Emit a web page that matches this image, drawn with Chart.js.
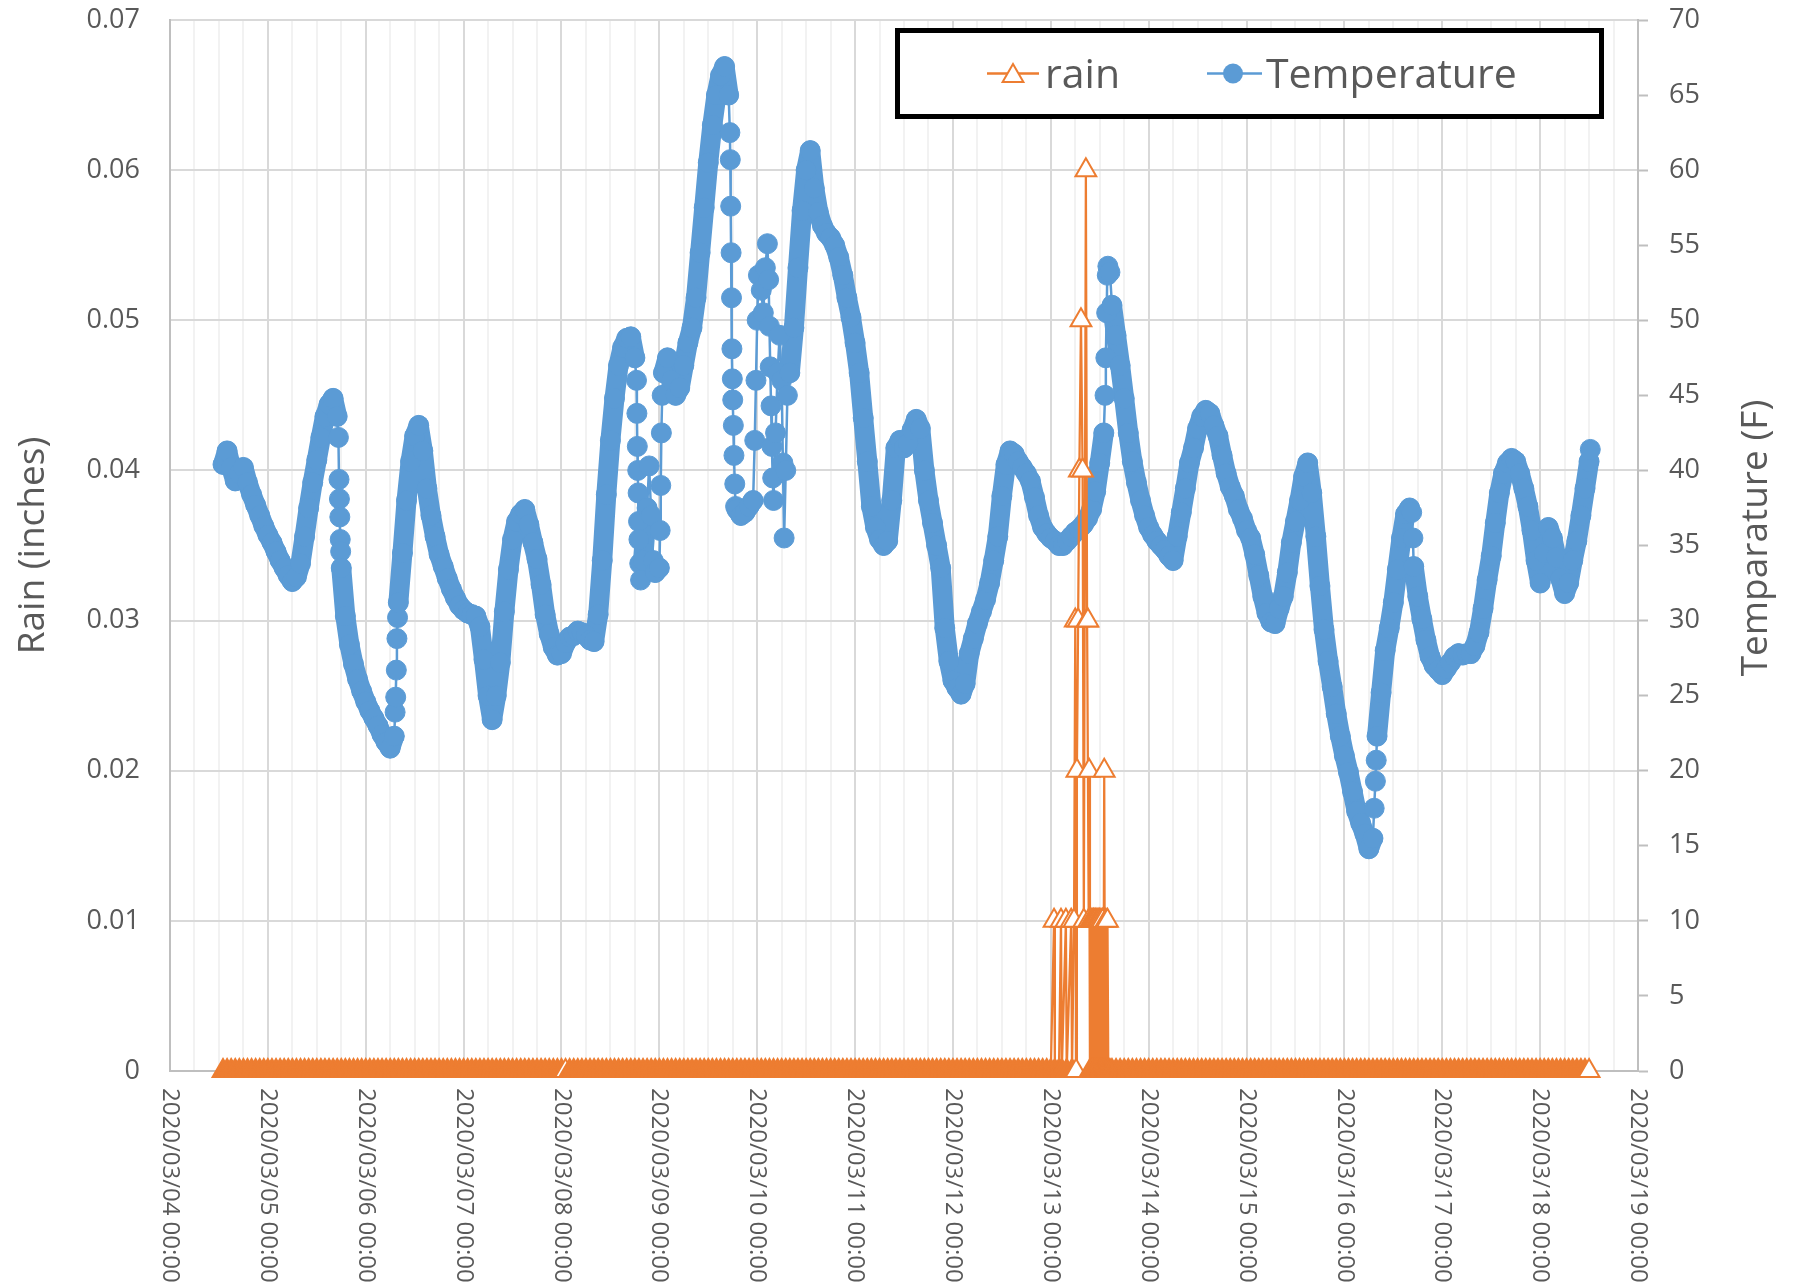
<!DOCTYPE html>
<html>
<head>
<meta charset="utf-8">
<script src="https://cdn.jsdelivr.net/npm/chart.js@4.4.1/dist/chart.umd.min.js"></script>
<style>
html,body{margin:0;padding:0;background:#ffffff;}
canvas{display:block;}
</style>
</head>
<body>
<canvas id="c" width="1797" height="1286" style="width:1797px;height:1286px"></canvas>
<script>
// ---- tick labels ----
const dateTickLabels = [
  '2020/03/04 00:00','2020/03/05 00:00','2020/03/06 00:00','2020/03/07 00:00',
  '2020/03/08 00:00','2020/03/09 00:00','2020/03/10 00:00','2020/03/11 00:00',
  '2020/03/12 00:00','2020/03/13 00:00','2020/03/14 00:00','2020/03/15 00:00',
  '2020/03/16 00:00','2020/03/17 00:00','2020/03/18 00:00','2020/03/19 00:00'
];
const rainTickLabels = ['0','0.01','0.02','0.03','0.04','0.05','0.06','0.07'];
const tempTickLabels = ['0','5','10','15','20','25','30','35','40','45','50','55','60','65','70'];

// ---- Temperature (F), one value per hour of each day (hour 0..23) ----
const temp0304 = [null,null,null,null,null,null,null,null,null,null,null,null,null,40.4,41.3,40.2,39.3,39.8,40.2,39.2,38.4,37.7,37.0,36.3];
const temp0305 = [35.7,35.2,34.6,34.0,33.5,33.0,32.6,32.9,33.8,35.6,37.5,39.2,40.7,42.2,43.6,44.4,44.8,43.6,33.5,30.3,28.4,27.1,26.1,25.3];
const temp0306 = [24.6,24.0,23.5,23.0,22.4,21.9,21.5,22.3,31.2,34.5,38.0,40.6,42.3,43.0,41.3,38.8,37.0,35.6,34.4,33.6,32.8,32.1,31.5,31.0];
const temp0307 = [30.7,30.5,30.4,30.3,29.6,27.4,25.0,23.4,25.0,27.2,30.6,33.4,35.4,36.6,37.1,37.4,36.4,35.2,34.1,32.4,30.4,29.1,28.2,27.7];
const temp0308 = [27.8,28.5,28.9,29.0,29.3,29.2,29.0,28.7,28.6,30.4,34.0,38.4,42.0,44.8,47.0,48.2,48.8,48.9,47.5,35.4,34.0,37.5,37.0,33.2];
const temp0309 = [33.5,46.5,47.5,46.0,45.0,45.5,47.0,48.5,49.5,51.5,54.5,57.5,60.5,63.0,65.0,66.3,66.9,65.0,44.7,37.4,37.0,37.2,37.6,38.0];
const temp0310 = [50.0,52.0,53.5,49.6,38.0,46.5,46.0,40.0,46.5,49.5,53.5,57.3,60.0,61.3,58.8,57.2,56.3,55.8,55.5,55.0,54.2,53.0,51.5,50.2];
const temp0311 = [48.5,46.5,43.5,40.6,37.6,36.2,35.4,35.0,35.3,38.0,41.5,42.0,41.5,41.8,42.7,43.4,42.8,40.0,38.0,36.5,35.0,33.5,29.5,27.3];
const temp0312 = [26.0,25.5,25.1,25.8,27.8,28.8,29.8,30.6,31.4,32.5,34.0,35.6,38.3,40.4,41.3,41.1,40.6,40.2,39.8,39.3,38.2,37.0,36.2,35.8];
const temp0313 = [35.5,35.3,35.0,35.0,35.3,35.6,35.9,36.1,36.4,36.8,37.4,38.6,40.5,42.5,53.6,51.0,49.0,47.0,44.8,42.5,40.6,39.2,38.0,37.0];
const temp0314 = [36.2,35.7,35.3,35.0,34.7,34.3,34.0,35.6,37.2,38.8,40.5,41.5,42.8,43.6,44.0,43.8,43.0,42.3,41.0,39.8,38.9,38.3,37.4,36.8];
const temp0315 = [36.0,35.5,34.4,33.0,31.6,30.5,29.9,29.8,30.8,31.6,33.2,35.2,36.6,38.0,39.6,40.5,38.5,35.6,32.3,29.4,27.3,25.6,23.8,22.3];
const temp0316 = [21.0,19.9,18.6,17.3,16.5,15.8,14.8,15.5,22.3,25.2,28.0,29.5,31.2,33.4,35.5,37.1,37.5,33.6,31.6,30.1,28.7,27.6,27.0,26.7];
const temp0317 = [26.4,26.8,27.2,27.6,27.8,27.7,27.8,27.8,28.3,29.2,30.8,32.7,34.3,36.5,38.5,39.8,40.5,40.8,40.6,39.8,38.8,37.6,36.0,34.0];
const temp0318 = [32.5,34.5,36.2,35.5,34.2,32.8,31.8,32.5,34.0,35.3,37.0,38.8,40.6,null,null,null,null,null,null,null,null,null,null,null];
// readings between the hours where the temperature jumped: [hours since 03/04 00:00, F]
const tempExtra = [
  [41.3,42.2],[41.45,39.4],[41.55,38.1],[41.65,36.9],[41.75,35.4],[41.85,34.6],
  [55.2,23.9],[55.35,24.9],[55.5,26.7],[55.65,28.8],[55.8,30.2],
  [114.4,46.0],[114.5,43.8],[114.6,41.6],[114.7,40.0],[114.8,38.5],[114.9,36.6],[115.2,33.8],[115.4,32.7],[117.5,40.3],[118.5,34.0],
  [120.2,36.0],[120.35,39.0],[120.5,42.5],[120.7,45.0],
  [137.3,62.5],[137.4,60.7],[137.5,57.6],[137.6,54.5],[137.7,51.5],[137.8,48.1],[137.9,46.1],[138.15,43.0],[138.3,41.0],[138.5,39.1],[138.7,37.6],
  [143.4,42.0],[143.7,46.0],[144.3,53.0],[145.5,50.5],[146.5,55.1],[146.8,52.7],[147.2,46.9],[147.4,44.3],[147.6,41.6],[147.8,39.5],
  [148.5,42.5],[149.5,49.0],[150.3,40.5],[150.6,35.5],[151.4,45.0],
  [229.3,45.0],[229.5,47.5],[229.7,50.5],[229.85,53.0],[230.5,53.2],
  [295.3,17.5],[295.6,19.3],[295.8,20.7],
  [304.5,37.2],[304.8,35.5],
  [348.3,41.4]
];

// ---- Rain (inches), one value per hour of each day ----
const rain0304 = [null,null,null,null,null,null,null,null,null,null,null,null,null,0,0,0,0,0,0,0,0,0,0,0];
const rain0305 = [0,0,0,0,0,0,0,0,0,0,0,0,0,0,0,0,0,0,0,0,0,0,0,0];
const rain0306 = [0,0,0,0,0,0,0,0,0,0,0,0,0,0,0,0,0,0,0,0,0,0,0,0];
const rain0307 = [0,0,0,0,0,0,0,0,0,0,0,0,0,0,0,0,0,0,0,0,0,0,0,0];
const rain0308 = [0,0,0,0,0,0,0,0,0,0,0,0,0,0,0,0,0,0,0,0,0,0,0,0];
const rain0309 = [0,0,0,0,0,0,0,0,0,0,0,0,0,0,0,0,0,0,0,0,0,0,0,0];
const rain0310 = [0,0,0,0,0,0,0,0,0,0,0,0,0,0,0,0,0,0,0,0,0,0,0,0];
const rain0311 = [0,0,0,0,0,0,0,0,0,0,0,0,0,0,0,0,0,0,0,0,0,0,0,0];
const rain0312 = [0,0,0,0,0,0,0,0,0,0,0,0,0,0,0,0,0,0,0,0,0,0,0,0];
const rain0313 = [null,null,null,null,null,null,null,null,null,null,null,null,null,null,null,0,0,0,0,0,0,0,0,0];
const rain0314 = [0,0,0,0,0,0,0,0,0,0,0,0,0,0,0,0,0,0,0,0,0,0,0,0];
const rain0315 = [0,0,0,0,0,0,0,0,0,0,0,0,0,0,0,0,0,0,0,0,0,0,0,0];
const rain0316 = [0,0,0,0,0,0,0,0,0,0,0,0,0,0,0,0,0,0,0,0,0,0,0,0];
const rain0317 = [0,0,0,0,0,0,0,0,0,0,0,0,0,0,0,0,0,0,0,0,0,0,0,0];
const rain0318 = [0,0,0,0,0,0,0,0,0,0,0,0,0,null,null,null,null,null,null,null,null,null,null,null];
// the rain event on 03/13, finer readings: [hours since 03/04 00:00, inches]
const rainEvent = [
  [216.0,0],[216.8,0.01],[217.0,0],[218.0,0],[218.5,0.01],[218.7,0],[219.7,0.01],[219.9,0],
  [221.0,0.01],[221.2,0],[221.7,0.01],[222.0,0.03],[222.2,0],[222.4,0.02],[222.7,0.03],
  [223.0,0.04],[223.4,0.05],[223.8,0.04],[224.1,0.01],[224.6,0.06],[224.9,0.03],[225.1,0.03],
  [225.3,0.01],[225.4,0.02],[225.6,0],[225.8,0.01],[225.9,0],[226.1,0.01],[226.2,0],[226.4,0.01],
  [226.6,0.01],[226.7,0],[226.9,0.01],[227.1,0],[227.3,0.01],[227.4,0],[227.6,0.01],[227.8,0],
  [227.9,0.01],[228.1,0],[228.3,0.01],[228.5,0],[228.7,0.01],[228.9,0],[229.1,0.02],[229.3,0],
  [229.5,0.01],[229.7,0],[229.9,0.01],[230.1,0],[230.5,0]
];
// readings whose triangle shows hollow on the zero line
const rainHollowAt = [97, 222.2, 348];

// ---- assemble points ----
function collect(days, extra) {
  const pts = [];
  days.forEach((arr, d) => arr.forEach((v, h) => { if (v !== null) pts.push({x: d * 24 + h, y: v}); }));
  extra.forEach(([x, y]) => pts.push({x: x, y: y}));
  pts.sort((a, b) => a.x - b.x);
  return pts;
}
const tempPoints = collect([temp0304,temp0305,temp0306,temp0307,temp0308,temp0309,temp0310,temp0311,temp0312,temp0313,temp0314,temp0315,temp0316,temp0317,temp0318], tempExtra);
const rainPoints = collect([rain0304,rain0305,rain0306,rain0307,rain0308,rain0309,rain0310,rain0311,rain0312,rain0313,rain0314,rain0315,rain0316,rain0317,rain0318], rainEvent);

const RAIN_COLOR = '#ED7D31';
const TEMP_COLOR = '#5B9BD5';
const TEXT_COLOR = '#595959';
const FONT = "'Open Sans', 'Noto Sans', sans-serif";

const gridHours = [];
for (let h = 0; h <= 360; h += 6) gridHours.push(h);

const overlayPlugin = {
  id: 'overlay',
  afterDraw(chart) {
    const ctx = chart.ctx;
    const xs = chart.scales.x;
    const area = chart.chartArea;
    ctx.save();
    // date labels, rotated clockwise
    ctx.fillStyle = TEXT_COLOR;
    ctx.font = '24px ' + FONT;
    ctx.textAlign = 'left';
    ctx.textBaseline = 'middle';
    dateTickLabels.forEach((lab, i) => {
      const px = xs.getPixelForValue(i * 24);
      ctx.save();
      ctx.translate(px, area.bottom + 17);
      ctx.rotate(Math.PI / 2);
      ctx.fillText(lab, 0, 0);
      ctx.restore();
    });
    // right axis title (reads bottom to top)
    ctx.font = '37px ' + FONT;
    ctx.textAlign = 'center';
    ctx.textBaseline = 'alphabetic';
    ctx.save();
    ctx.translate(1767, 538);
    ctx.rotate(-Math.PI / 2);
    ctx.fillText('Temparature (F)', 0, 0);
    ctx.restore();

    // legend box
    ctx.fillStyle = '#ffffff';
    ctx.fillRect(897.5, 30.5, 704, 86);
    ctx.lineWidth = 5;
    ctx.strokeStyle = '#000000';
    ctx.strokeRect(897.5, 30.5, 704, 86);
    // rain sample
    ctx.strokeStyle = RAIN_COLOR;
    ctx.lineWidth = 2.5;
    ctx.beginPath(); ctx.moveTo(987, 73.5); ctx.lineTo(1039, 73.5); ctx.stroke();
    const r = 12, cx = 1013, cy = 76;
    ctx.beginPath();
    ctx.moveTo(cx, cy - r);
    ctx.lineTo(cx + r * Math.sin(2 * Math.PI / 3), cy - r * Math.cos(2 * Math.PI / 3));
    ctx.lineTo(cx + r * Math.sin(4 * Math.PI / 3), cy - r * Math.cos(4 * Math.PI / 3));
    ctx.closePath();
    ctx.fillStyle = '#ffffff'; ctx.fill();
    ctx.lineWidth = 2; ctx.stroke();
    // temperature sample
    ctx.strokeStyle = TEMP_COLOR;
    ctx.lineWidth = 2.5;
    ctx.beginPath(); ctx.moveTo(1207, 73.5); ctx.lineTo(1262, 73.5); ctx.stroke();
    ctx.beginPath(); ctx.arc(1233, 73.5, 10, 0, Math.PI * 2);
    ctx.fillStyle = TEMP_COLOR; ctx.fill();
    // legend texts
    ctx.fillStyle = TEXT_COLOR;
    ctx.font = '41px ' + FONT;
    ctx.textAlign = 'left';
    ctx.textBaseline = 'alphabetic';
    ctx.fillText('rain', 1045, 88);
    ctx.fillText('Temperature', 1266, 88);
    ctx.restore();
  }
};

// hourly readings are dense enough that their markers merge into a band;
// segments touching an in-between reading (a jump) stay thin
const isHourly = (x) => Math.abs(x - Math.round(x)) < 1e-9;

new Chart(document.getElementById('c').getContext('2d'), {
  type: 'line',
  data: {
    datasets: [
      {
        label: 'rain',
        data: rainPoints,
        yAxisID: 'y',
        borderColor: RAIN_COLOR,
        borderWidth: 2.25,
        pointStyle: 'triangle',
        pointRadius: 12,
        pointBorderWidth: 2,
        pointBorderColor: RAIN_COLOR,
        pointBackgroundColor: (c) => {
          const p = c.raw;
          if (!p) return RAIN_COLOR;
          return (p.y > 0 || rainHollowAt.includes(p.x)) ? '#ffffff' : RAIN_COLOR;
        },
        clip: false,
        order: 0
      },
      {
        label: 'Temperature',
        data: tempPoints,
        yAxisID: 'y1',
        borderColor: TEMP_COLOR,
        borderWidth: 2.5,
        borderJoinStyle: 'round',
        borderCapStyle: 'round',
        segment: {
          borderWidth: (c) => {
            const a = tempPoints[c.p0DataIndex], b = tempPoints[c.p1DataIndex];
            return (a && b && isHourly(a.x) && isHourly(b.x)) ? 20 : 2.5;
          }
        },
        pointStyle: 'circle',
        pointRadius: 10,
        pointBorderWidth: 1,
        pointBorderColor: TEMP_COLOR,
        pointBackgroundColor: TEMP_COLOR,
        clip: false,
        order: 1
      }
    ]
  },
  options: {
    responsive: false,
    animation: false,
    devicePixelRatio: 1,
    events: [],
    layout: { padding: { top: 20, left: 0, right: 0, bottom: 0 } },
    plugins: { legend: { display: false }, tooltip: { enabled: false } },
    scales: {
      x: {
        type: 'linear',
        min: 0, max: 360,
        afterBuildTicks: (s) => { s.ticks = gridHours.map(v => ({ value: v })); },
        afterFit: (s) => { s.height = 215; s.paddingLeft = 0; s.paddingRight = 0; },
        ticks: { display: false },
        grid: {
          drawTicks: false,
          lineWidth: 2,
          color: (c) => (c.tick && c.tick.value % 24 === 0) ? '#d9d9d9' : '#f2f2f2'
        },
        border: { color: '#bfbfbf', width: 2 }
      },
      y: {
        position: 'left',
        min: 0, max: 0.07,
        afterBuildTicks: (s) => { s.ticks = rainTickLabels.map((t, i) => ({ value: i * 0.01 })); },
        afterFit: (s) => { s.width = 170; s.paddingTop = 0; s.paddingBottom = 0; },
        ticks: {
          padding: 30,
          color: TEXT_COLOR,
          font: { family: FONT, size: 27 },
          callback: (v, i) => rainTickLabels[i]
        },
        grid: { drawTicks: false, lineWidth: 2, color: '#d9d9d9' },
        border: { color: '#bfbfbf', width: 2 },
        title: {
          display: true,
          text: 'Rain (inches)',
          color: TEXT_COLOR,
          font: { family: FONT, size: 37 },
          padding: { top: 11, bottom: 0 }
        }
      },
      y1: {
        position: 'right',
        min: 0, max: 70,
        afterBuildTicks: (s) => { s.ticks = tempTickLabels.map((t, i) => ({ value: i * 5 })); },
        afterFit: (s) => { s.width = 159; s.paddingTop = 0; s.paddingBottom = 0; },
        ticks: {
          padding: 21,
          color: TEXT_COLOR,
          font: { family: FONT, size: 27 },
          callback: (v, i) => tempTickLabels[i]
        },
        grid: { drawOnChartArea: false, drawTicks: true, tickLength: 10, tickColor: '#bfbfbf', tickWidth: 2 },
        border: { color: '#bfbfbf', width: 2 }
      }
    }
  },
  plugins: [overlayPlugin]
});
</script>
</body>
</html>
